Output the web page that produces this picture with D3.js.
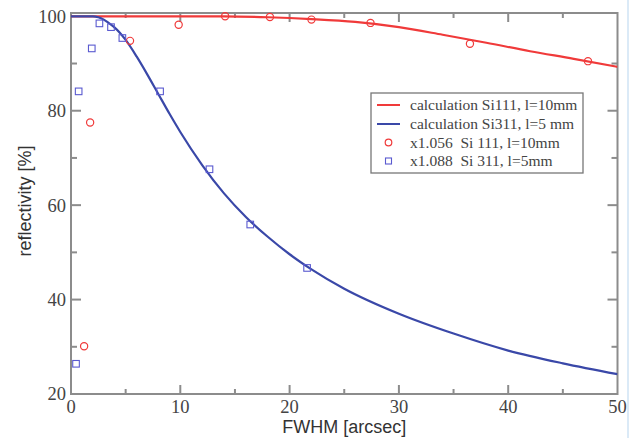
<!DOCTYPE html>
<html><head><meta charset="utf-8">
<script src="https://cdn.jsdelivr.net/npm/d3@7"></script>
<style>body{margin:0;background:#fff}svg{display:block}</style>
</head><body>
<script>
// ---- data ----
const calcSi111X = [0, 5, 10, 14, 18, 22, 26, 30, 34, 38, 42, 46, 50];
const calcSi111Y = [100, 100, 100, 100, 99.8, 99.4, 98.8, 97.7, 96.1, 94.4, 92.6, 91.0, 89.3];
const calcSi311X = [0, 1, 2, 2.5, 3, 3.5, 4, 5, 6, 7, 8, 9, 10, 12, 14, 16, 18, 20, 22, 25, 30, 35, 40, 45, 50];
const calcSi311Y = [100, 100, 100, 99.8, 99.3, 98.5, 97.6, 95, 91.5, 87.6, 83.5, 79.4, 75.5, 68.5, 62.5, 57.5, 53.3, 49.6, 46.4, 42.3, 37.0, 32.8, 29.2, 26.5, 24.2];
const measSi111X = [1.2, 1.75, 5.4, 9.85, 14.1, 18.2, 22.0, 27.4, 36.5, 47.3];
const measSi111Y = [30.1, 77.5, 94.8, 98.2, 100, 99.85, 99.3, 98.6, 94.2, 90.5];
const measSi311X = [0.46, 0.7, 1.9, 2.6, 3.66, 4.7, 8.15, 12.67, 16.4, 21.6];
const measSi311Y = [26.4, 84.1, 93.2, 98.5, 97.7, 95.4, 84.1, 67.6, 55.9, 46.7];
const xMajorTicks = [0, 10, 20, 30, 40, 50];
const xMinorTicks = [5, 15, 25, 35, 45];
const yMajorTicks = [20, 40, 60, 80, 100];
const yMinorTicks = [30, 50, 70, 90];
const legendLabels = ["calculation Si111, l=10mm", "calculation Si311, l=5 mm", "x1.056  Si 111, l=10mm", "x1.088  Si 311, l=5mm"];
const xTitle = "FWHM [arcsec]";
const yTitle = "reflectivity [%]";

const W = 631, H = 438;
const red = "#f03a3a", blue = "#3a48a8", blueSq = "#5a5ad0", frame = "#8c8c8c";
const svg = d3.select("body").append("svg").attr("width", W).attr("height", H);

const x = d3.scaleLinear().domain([0, 50]).range([71, 617.5]);
const y = d3.scaleLinear().domain([20, 100.7]).range([394, 13]);

// faint page edge line on right
svg.append("line").attr("x1", 628).attr("x2", 628).attr("y1", 0).attr("y2", H)
  .attr("stroke", "#cfe3f5").attr("stroke-width", 1.5);

// frame
svg.append("rect").attr("x", x(0)).attr("y", y(100.7)).attr("width", x(50) - x(0)).attr("height", y(20) - y(100.7))
  .attr("fill", "none").attr("stroke", frame).attr("stroke-width", 2);

// ticks (inward on all four sides)
const tk = svg.append("g").attr("stroke", frame).attr("stroke-width", 2);
function xt(vals, len) {
  vals.forEach(v => {
    tk.append("line").attr("x1", x(v)).attr("x2", x(v)).attr("y1", y(20)).attr("y2", y(20) - len);
    tk.append("line").attr("x1", x(v)).attr("x2", x(v)).attr("y1", y(100.7)).attr("y2", y(100.7) + len);
  });
}
function yt(vals, len) {
  vals.forEach(v => {
    tk.append("line").attr("y1", y(v)).attr("y2", y(v)).attr("x1", x(0)).attr("x2", x(0) + len);
    tk.append("line").attr("y1", y(v)).attr("y2", y(v)).attr("x1", x(50)).attr("x2", x(50) - len);
  });
}
xt(xMajorTicks.slice(1, -1), 9); xt(xMinorTicks, 5);
yt(yMajorTicks.slice(1, -1), 10); yt(yMinorTicks, 6);

// tick labels
const serif = "'Liberation Serif', 'DejaVu Serif', serif";
svg.append("g").selectAll("text").data(xMajorTicks).join("text")
  .attr("x", d => x(d)).attr("y", 413).attr("text-anchor", "middle")
  .attr("font-family", serif).attr("font-size", 18.5).attr("fill", "#444").text(d => d);
svg.append("g").selectAll("text").data(yMajorTicks).join("text")
  .attr("x", 66).attr("y", d => y(d)).attr("dy", "0.35em").attr("text-anchor", "end")
  .attr("font-family", serif).attr("font-size", 18.5).attr("fill", "#444").text(d => d);

// axis titles
const sans = "'Liberation Sans', Arial, sans-serif";
svg.append("text").attr("x", x(25)).attr("y", 433).attr("text-anchor", "middle")
  .attr("font-family", sans).attr("font-size", 18).attr("fill", "#333").text(xTitle);
svg.append("text").attr("transform", "translate(31,201) rotate(-90)").attr("text-anchor", "middle")
  .attr("font-family", sans).attr("font-size", 18).attr("fill", "#333").text(yTitle);

// curves
const line = d3.line().x(d => x(d[0])).y(d => y(d[1])).curve(d3.curveMonotoneX);
const clip = svg.append("clipPath").attr("id", "c").append("rect")
  .attr("x", x(0)).attr("y", y(100.7)).attr("width", x(50) - x(0)).attr("height", y(20) - y(100.7));
svg.append("path").datum(d3.zip(calcSi111X, calcSi111Y)).attr("d", line)
  .attr("fill", "none").attr("stroke", red).attr("stroke-width", 2.2).attr("clip-path", "url(#c)");
svg.append("path").datum(d3.zip(calcSi311X, calcSi311Y)).attr("d", line)
  .attr("fill", "none").attr("stroke", blue).attr("stroke-width", 2.2).attr("clip-path", "url(#c)");

// markers
svg.append("g").selectAll("circle").data(d3.zip(measSi111X, measSi111Y)).join("circle")
  .attr("cx", d => x(d[0])).attr("cy", d => y(d[1])).attr("r", 3.6)
  .attr("fill", "none").attr("stroke", red).attr("stroke-width", 1.2);
svg.append("g").selectAll("rect").data(d3.zip(measSi311X, measSi311Y)).join("rect")
  .attr("x", d => x(d[0]) - 3.3).attr("y", d => y(d[1]) - 3.3).attr("width", 6.6).attr("height", 6.6)
  .attr("fill", "none").attr("stroke", blueSq).attr("stroke-width", 1.1);

// legend
const lg = svg.append("g");
lg.append("rect").attr("x", 371).attr("y", 93).attr("width", 212).attr("height", 80)
  .attr("fill", "#fff").attr("stroke", "#777").attr("stroke-width", 1.3);
const rowY = [105, 124, 142.5, 161];
legendLabels.forEach((t, i) => {
  lg.append("text").attr("x", 410).attr("y", rowY[i]).attr("dy", "0.35em")
    .style("white-space", "pre")
    .attr("font-family", serif).attr("font-size", 15.5).attr("fill", "#444").text(t);
});
lg.append("line").attr("x1", 377).attr("x2", 400).attr("y1", rowY[0]).attr("y2", rowY[0]).attr("stroke", red).attr("stroke-width", 2);
lg.append("line").attr("x1", 377).attr("x2", 400).attr("y1", rowY[1]).attr("y2", rowY[1]).attr("stroke", blue).attr("stroke-width", 2);
lg.append("circle").attr("cx", 388.5).attr("cy", rowY[2]).attr("r", 3.3).attr("fill", "none").attr("stroke", red).attr("stroke-width", 1.2);
lg.append("rect").attr("x", 385.5).attr("y", rowY[3] - 3).attr("width", 6).attr("height", 6).attr("fill", "none").attr("stroke", blueSq).attr("stroke-width", 1.1);
</script>
</body></html>
